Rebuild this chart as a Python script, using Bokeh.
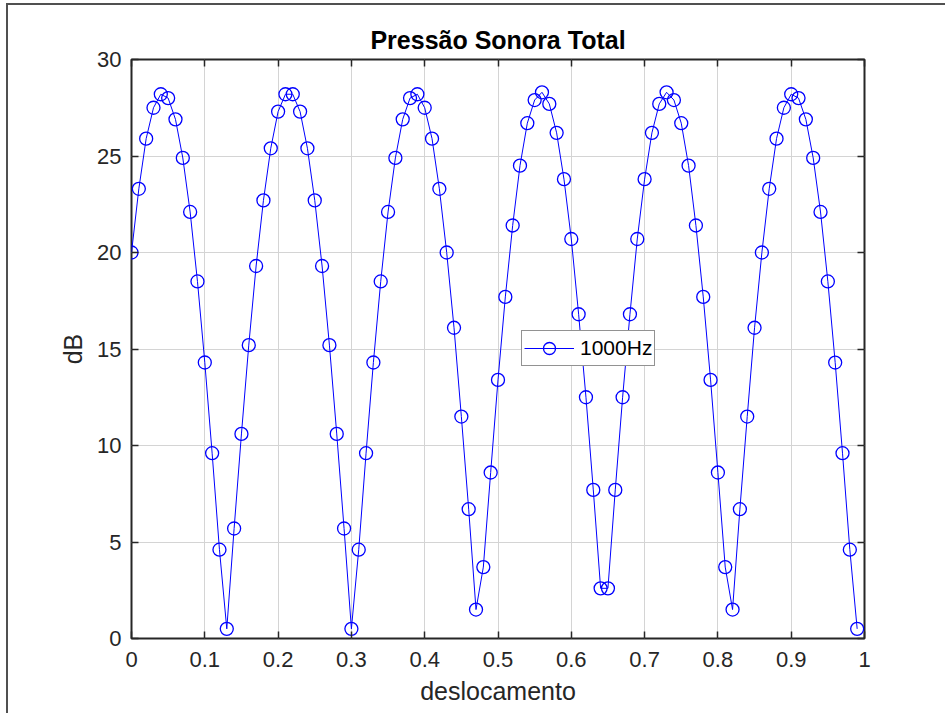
from bokeh.plotting import figure
from bokeh.models import FixedTicker, LinearAxis, Range1d, Legend
from bokeh.embed import file_html
from bokeh.resources import INLINE

# ---- data ----
deslocamento = [
    0.00, 0.01, 0.02, 0.03, 0.04, 0.05, 0.06, 0.07, 0.08, 0.09,
    0.10, 0.11, 0.12, 0.13, 0.14, 0.15, 0.16, 0.17, 0.18, 0.19,
    0.20, 0.21, 0.22, 0.23, 0.24, 0.25, 0.26, 0.27, 0.28, 0.29,
    0.30, 0.31, 0.32, 0.33, 0.34, 0.35, 0.36, 0.37, 0.38, 0.39,
    0.40, 0.41, 0.42, 0.43, 0.44, 0.45, 0.46, 0.47, 0.48, 0.49,
    0.50, 0.51, 0.52, 0.53, 0.54, 0.55, 0.56, 0.57, 0.58, 0.59,
    0.60, 0.61, 0.62, 0.63, 0.64, 0.65, 0.66, 0.67, 0.68, 0.69,
    0.70, 0.71, 0.72, 0.73, 0.74, 0.75, 0.76, 0.77, 0.78, 0.79,
    0.80, 0.81, 0.82, 0.83, 0.84, 0.85, 0.86, 0.87, 0.88, 0.89,
    0.90, 0.91, 0.92, 0.93, 0.94, 0.95, 0.96, 0.97, 0.98, 0.99,
]
db_1000hz = [
    20.0, 23.3, 25.9, 27.5, 28.2, 28.0, 26.9, 24.9, 22.1, 18.5,
    14.3, 9.6, 4.6, 0.5, 5.7, 10.6, 15.2, 19.3, 22.7, 25.4,
    27.3, 28.2, 28.2, 27.3, 25.4, 22.7, 19.3, 15.2, 10.6, 5.7,
    0.5, 4.6, 9.6, 14.3, 18.5, 22.1, 24.9, 26.9, 28.0, 28.2,
    27.5, 25.9, 23.3, 20.0, 16.1, 11.5, 6.7, 1.5, 3.7, 8.6,
    13.4, 17.7, 21.4, 24.5, 26.7, 27.9, 28.3, 27.7, 26.2, 23.8,
    20.7, 16.8, 12.5, 7.7, 2.6, 2.6, 7.7, 12.5, 16.8, 20.7,
    23.8, 26.2, 27.7, 28.3, 27.9, 26.7, 24.5, 21.4, 17.7, 13.4,
    8.6, 3.7, 1.5, 6.7, 11.5, 16.1, 20.0, 23.3, 25.9, 27.5,
    28.2, 28.0, 26.9, 24.9, 22.1, 18.5, 14.3, 9.6, 4.6, 0.5,
]
series_label = "1000Hz"
x_ticks = [0, 0.1, 0.2, 0.3, 0.4, 0.5, 0.6, 0.7, 0.8, 0.9, 1]
x_tick_labels = ["0", "0.1", "0.2", "0.3", "0.4", "0.5", "0.6", "0.7", "0.8", "0.9", "1"]
y_ticks = [0, 5, 10, 15, 20, 25, 30]
y_tick_labels = ["0", "5", "10", "15", "20", "25", "30"]
title_text = "Pressão Sonora Total"
x_label = "deslocamento"
y_label = "dB"

# ---- style ----
FONT = "Liberation Sans"
AX = "#262626"
BLUE = "#0000ff"
WIN = "#505050"

p = figure(frame_width=733, frame_height=579,
           min_border_left=131, min_border_right=81,
           min_border_top=59, min_border_bottom=75,
           x_range=Range1d(0, 1), y_range=Range1d(0, 30),
           output_backend="svg", toolbar_location=None,
           background_fill_color="white", border_fill_alpha=0)

# thin window frame (top and left edges of the captured figure window)
p.styles = {
    "background-color": "white",
    "background-image": f"linear-gradient({WIN}, {WIN}), linear-gradient({WIN}, {WIN})",
    "background-size": "939px 2px, 2px 710px",
    "background-position": "6px 3px, 6px 3px",
    "background-repeat": "no-repeat",
}

p.title.text = title_text
p.title.align = "center"
p.title.text_font = FONT
p.title.text_font_size = "25px"
p.title.text_font_style = "bold"
p.title.text_color = "#000000"
p.title.standoff = 12

p.outline_line_color = AX
p.outline_line_width = 2
p.outline_line_alpha = 1

xt = FixedTicker(ticks=x_ticks)
yt = FixedTicker(ticks=y_ticks)

def style_axis(ax, ticker, labels, show_labels=True):
    ax.ticker = ticker
    ax.major_tick_in = 7
    ax.major_tick_out = 0
    ax.minor_tick_line_color = None
    ax.major_tick_line_color = AX
    ax.major_tick_line_width = 1.5
    ax.axis_line_color = None
    if show_labels:
        ax.major_label_overrides = {t: l for t, l in zip(ticker.ticks, labels)}
        ax.major_label_text_font = FONT
        ax.major_label_text_font_size = "22px"
        ax.major_label_text_color = AX
    else:
        ax.major_label_text_font_size = "1px"
        ax.major_label_text_color = None
        ax.major_label_standoff = 0

xa = p.xaxis[0]
style_axis(xa, xt, x_tick_labels)
xa.major_label_standoff = 13
xa.axis_label = x_label
xa.axis_label_text_font = FONT
xa.axis_label_text_font_size = "25px"
xa.axis_label_text_font_style = "normal"
xa.axis_label_text_color = AX
xa.axis_label_standoff = 7

ya = p.yaxis[0]
style_axis(ya, yt, y_tick_labels)
ya.major_label_standoff = 10
ya.axis_label = y_label
ya.axis_label_text_font = FONT
ya.axis_label_text_font_size = "25px"
ya.axis_label_text_font_style = "normal"
ya.axis_label_text_color = AX
ya.axis_label_standoff = 7

top_ax = LinearAxis()
style_axis(top_ax, xt, x_tick_labels, show_labels=False)
p.add_layout(top_ax, "above")
right_ax = LinearAxis()
style_axis(right_ax, yt, y_tick_labels, show_labels=False)
p.add_layout(right_ax, "right")

p.xgrid.ticker = xt
p.ygrid.ticker = yt
p.xgrid.grid_line_color = "#d4d4d4"
p.ygrid.grid_line_color = "#d4d4d4"
p.xgrid.grid_line_width = 1
p.ygrid.grid_line_width = 1

r_line = p.line(deslocamento, db_1000hz, line_color=BLUE, line_width=1)
r_pts = p.scatter(deslocamento, db_1000hz, marker="circle", size=13,
                  fill_color=None, line_color=BLUE, line_width=1.3)

legend = Legend(items=[(series_label, [r_line, r_pts])],
                location=(390, 272), margin=0, padding=2, spacing=0,
                glyph_width=50, glyph_height=30, label_standoff=6,
                label_height=20,
                label_text_font=FONT, label_text_font_size="21px",
                label_text_color="#000000",
                border_line_color=AX, border_line_width=1,
                background_fill_color="white", background_fill_alpha=1)
p.add_layout(legend, "center")

open("out.html", "w").write(file_html(p, INLINE))
